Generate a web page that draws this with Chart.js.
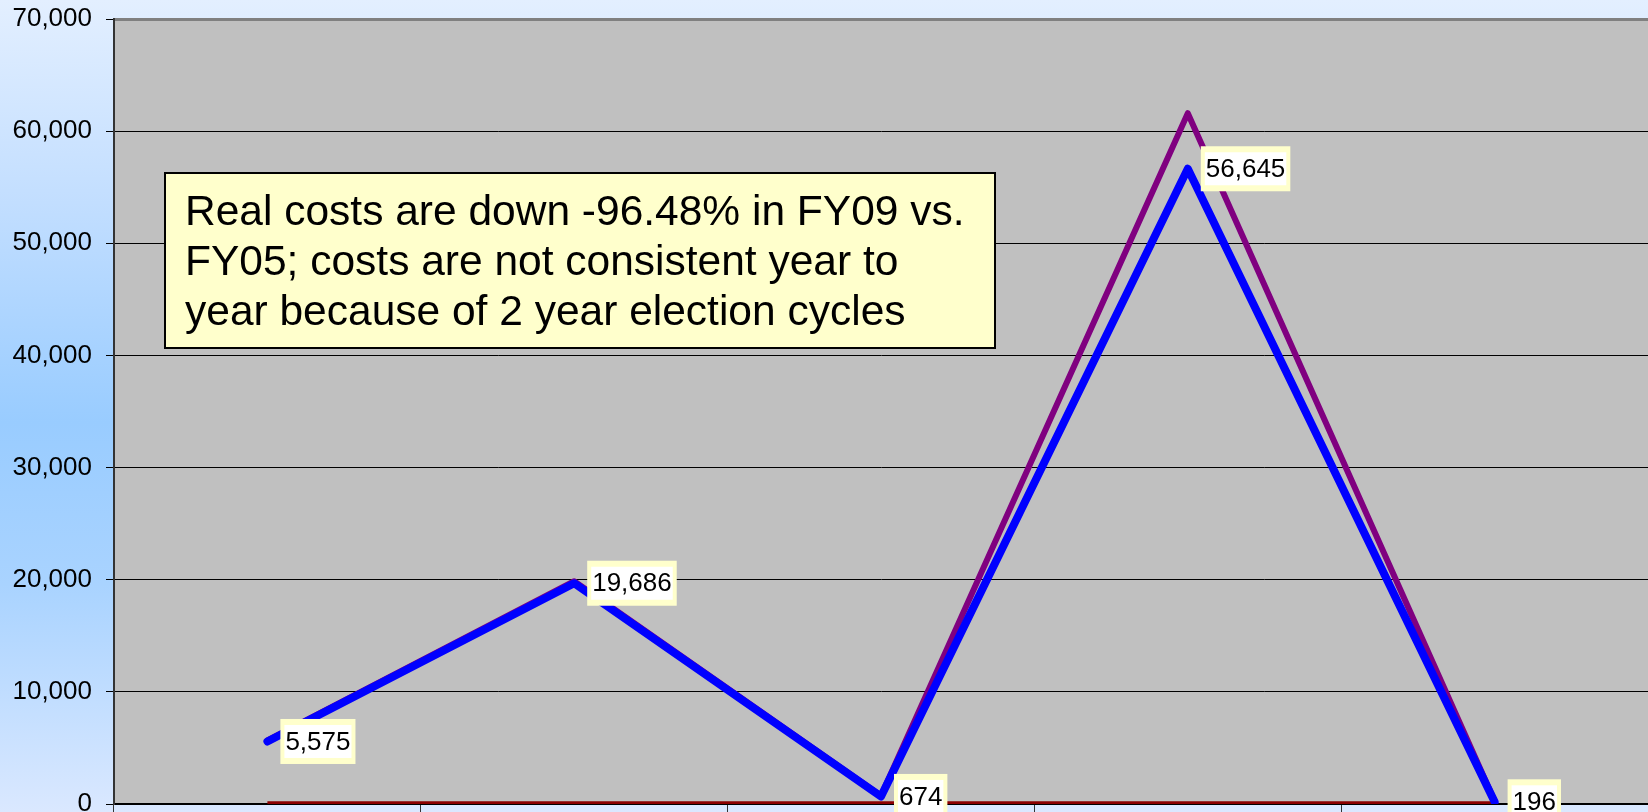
<!DOCTYPE html>
<html lang="en">
<head>
  <meta charset="UTF-8" />
  <title>Real costs FY05 - FY09</title>
  <script src="https://cdn.jsdelivr.net/npm/chart.js"></script>
  <style>
    html, body { margin: 0; padding: 0; }
    body {
      width: 1648px; height: 812px; overflow: hidden;
      background: linear-gradient(to bottom, #e3efff 0%, #c2deff 25%, #99ccff 52%, #a9d3ff 72%, #dae8ff 100%);
    }
    #wrap { position: relative; width: 1648px; height: 812px; }
  </style>
</head>
<body>
  <div id="wrap">
    <canvas id="costChart" width="1648" height="812"></canvas>
  </div>

  <script>
    // values
    const categories = ['FY05', 'FY06', 'FY07', 'FY08', 'FY09'];
    const realCosts = [5575, 19686, 674, 56645, 196];
    const nominalCosts = [5660, 19860, 740, 61600, 260];
    const baseCosts = [110, 110, 110, 110, 110];
    const yTicks = [0, 10000, 20000, 30000, 40000, 50000, 60000, 70000];
    const noteLines = [
      'Real costs are down -96.48% in FY09 vs.',
      'FY05; costs are not consistent year to',
      'year because of 2 year election cycles'
    ];

    const FONT = '"Liberation Sans", Arial, sans-serif';

    // grey plot area
    const plotBg = {
      id: 'plotBg',
      beforeDraw(chart) {
        const { ctx, chartArea: a } = chart;
        ctx.save();
        ctx.fillStyle = '#c0c0c0';
        ctx.fillRect(a.left, a.top, a.right - a.left, a.bottom - a.top);
        ctx.restore();
      }
    };

    // value labels for the blue series
    const valueLabels = {
      id: 'valueLabels',
      afterDatasetsDraw(chart) {
        const { ctx } = chart;
        const meta = chart.getDatasetMeta(0);
        ctx.save();
        ctx.font = '26px ' + FONT;
        ctx.textBaseline = 'middle';
        meta.data.forEach((pt, i) => {
          const txt = realCosts[i].toLocaleString('en-US');
          const w = ctx.measureText(txt).width;
          const bx = pt.x + 13, bh = 45, by = pt.y - bh / 2;
          ctx.fillStyle = '#ffffcc';
          ctx.fillRect(bx, by, w + 10, bh);
          ctx.fillStyle = '#ffffff';
          ctx.fillRect(bx + 4, by + 6, w + 2, bh - 12);
          ctx.fillStyle = '#000';
          ctx.fillText(txt, bx + 5, pt.y + 1);
        });
        ctx.restore();
      }
    };

    // the note box
    const noteBox = {
      id: 'noteBox',
      afterDraw(chart) {
        const { ctx } = chart;
        ctx.save();
        ctx.fillStyle = '#ffffcc';
        ctx.fillRect(165, 173, 830, 175);
        ctx.strokeStyle = '#000';
        ctx.lineWidth = 2;
        ctx.strokeRect(165, 173, 830, 175);
        ctx.fillStyle = '#000';
        ctx.font = '42.5px ' + FONT;
        ctx.textBaseline = 'alphabetic';
        noteLines.forEach((line, i) => ctx.fillText(line, 185, 225 + i * 50));
        ctx.restore();
      }
    };

    new Chart(document.getElementById('costChart'), {
      type: 'line',
      data: {
        labels: categories,
        datasets: [
          {
            label: 'Real',
            data: realCosts,
            borderColor: '#0000ff',
            borderWidth: 8,
            borderCapStyle: 'round',
            borderJoinStyle: 'round',
            pointRadius: 0,
            tension: 0
          },
          {
            label: 'Nominal',
            data: nominalCosts,
            borderColor: '#800080',
            borderWidth: 6,
            borderCapStyle: 'round',
            borderJoinStyle: 'round',
            pointRadius: 0,
            tension: 0
          },
          {
            label: 'Base',
            data: baseCosts,
            borderColor: '#8b0000',
            borderWidth: 3,
            pointRadius: 0,
            tension: 0
          }
        ]
      },
      options: {
        responsive: false,
        animation: false,
        devicePixelRatio: 1,
        layout: { padding: { top: 19, left: 0, right: 0, bottom: 0 } },
        plugins: {
          legend: { display: false },
          tooltip: { enabled: false }
        },
        scales: {
          x: {
            offset: true,
            grid: {
              offset: true,
              drawOnChartArea: false,
              drawTicks: true,
              tickLength: 9,
              tickColor: '#333',
              tickWidth: 1
            },
            border: { display: true, color: '#000', width: 2 },
            ticks: { display: false },
            afterFit(s) {
              s.height = 8;
              s.paddingLeft = 0; s.paddingRight = 0;
            }
          },
          y: {
            min: 0,
            max: 70000,
            afterBuildTicks(s) { s.ticks = yTicks.map(v => ({ value: v })); },
            ticks: {
              color: '#000',
              font: { size: 26, family: FONT },
              padding: 14,
              callback: v => v.toLocaleString('en-US')
            },
            grid: {
              color: c => (c.tick && c.tick.value === 70000) ? '#808080' : '#000',
              lineWidth: c => (c.tick && c.tick.value === 70000) ? 3 : 1,
              tickColor: '#000',
              tickWidth: 1,
              tickLength: 8
            },
            border: { display: true, color: '#333', width: 2 },
            afterFit(s) {
              s.width = 114;
              s.paddingTop = 0; s.paddingBottom = 0;
            }
          }
        }
      },
      plugins: [plotBg, valueLabels, noteBox]
    });
  </script>
</body>
</html>
